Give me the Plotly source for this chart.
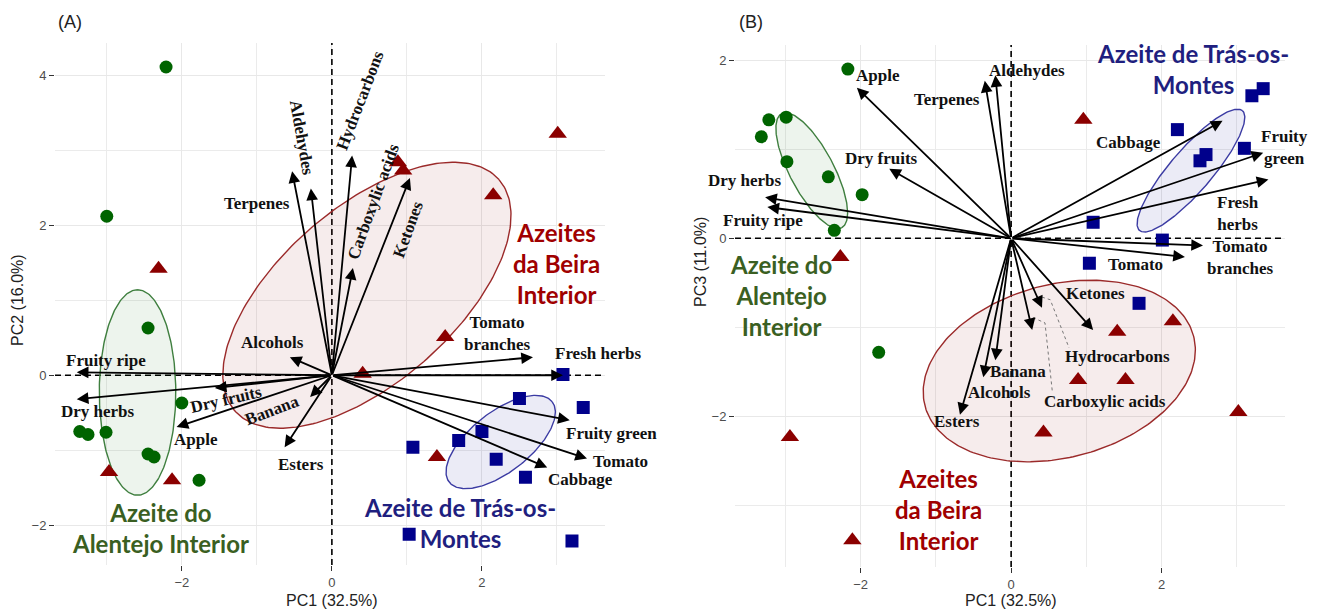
import numpy as np
import plotly.graph_objects as go

# ---------------- Panel A : PC1 x PC2 ----------------
alentejo_a_pc1 = [-2.21, -3.00, -2.45, -2.00, -3.36, -3.25, -3.01, -2.45, -2.37, -1.77]
alentejo_a_pc2 = [4.11, 2.12, 0.63, -0.37, -0.75, -0.79, -0.76, -1.05, -1.09, -1.40]
beira_a_pc1 = [-2.31, -2.97, -2.13, 0.88, 0.95, 2.15, 3.01, 1.51, 0.41, 1.40]
beira_a_pc2 = [1.42, -1.29, -1.40, 2.84, 2.73, 2.40, 3.22, 0.51, 0.02, -1.09]
tras_a_pc1 = [3.08, 2.50, 3.35, 2.00, 1.69, 1.08, 2.19, 2.58, 1.03, 3.20]
tras_a_pc2 = [0.01, -0.31, -0.43, -0.75, -0.87, -0.96, -1.12, -1.36, -2.12, -2.21]

# ---------------- Panel B : PC1 x PC3 ----------------
alentejo_b_pc1 = [-2.17, -3.22, -2.99, -3.32, -2.98, -2.43, -1.98, -2.35, -1.76]
alentejo_b_pc3 = [1.90, 1.33, 1.36, 1.14, 0.86, 0.69, 0.49, 0.09, -1.28]
beira_b_pc1 = [-2.27, 0.96, -2.94, -2.11, 1.41, 2.15, 0.89, 1.52, 0.43, 3.02]
beira_b_pc3 = [-0.21, 1.33, -2.23, -3.39, -1.05, -0.93, -1.59, -1.59, -2.18, -1.95]
tras_b_pc1 = [3.20, 3.35, 2.21, 2.51, 2.59, 3.10, 1.09, 2.01, 1.04, 1.70]
tras_b_pc3 = [1.60, 1.68, 1.22, 0.87, 0.94, 1.01, 0.18, -0.02, -0.28, -0.73]

# ---------------- Sensory / volatile loadings ----------------
attributes = ["Fruity ripe", "Dry herbs", "Dry fruits", "Apple", "Banana", "Esters",
              "Alcohols", "Terpenes", "Aldehydes", "Hydrocarbons", "Carboxylic acids",
              "Ketones", "Tomato branches", "Fresh herbs", "Fruity green", "Tomato", "Cabbage"]
load_a_pc1 = [-3.40, -3.40, -1.56, -2.07, -0.29, -0.63, -0.56, -0.53, -0.28, 0.27, 0.28,
              1.04, 2.68, 3.08, 3.17, 3.40, 2.87]
load_a_pc2 = [0.04, -0.32, -0.17, -0.69, -0.29, -0.96, 0.24, 2.72, 2.49, 2.93, 1.43,
              2.63, 0.24, 0.00, -0.60, -1.11, -1.23]
load_b_pc1 = [-3.24, -3.27, -1.62, -2.05, -0.21, -0.68, -0.37, -0.35, -0.21, 0.41, 0.28,
              1.09, 2.55, 3.42, 3.35, 2.31, 2.81]
load_b_pc3 = [0.35, 0.46, 0.78, 1.69, -1.37, -1.98, -1.56, 1.77, 1.83, -0.78, -1.03,
              -1.03, -0.08, 0.66, 0.96, -0.21, 1.32]

# label placement for each loading: (x, y, text angle)
label_pos_a = {
    "Fruity ripe": (-3.01, 0.20, 0), "Dry herbs": (-3.12, -0.48, 0),
    "Dry fruits": (-1.41, -0.33, -13), "Apple": (-1.81, -0.85, 0),
    "Banana": (-0.80, -0.47, -21), "Esters": (-0.41, -1.19, 0),
    "Alcohols": (-0.79, 0.44, 0), "Terpenes": (-1.00, 2.29, 0),
    "Aldehydes": (-0.40, 3.17, 80), "Hydrocarbons": (0.37, 3.67, -69),
    "Carboxylic acids": (0.55, 2.32, -70), "Ketones": (1.01, 1.95, -70),
    "Tomato branches": (2.21, 0.56, 0), "Fresh herbs": (3.55, 0.29, 0),
    "Fruity green": (3.73, -0.77, 0), "Tomato": (3.84, -1.15, 0),
    "Cabbage": (3.32, -1.39, 0),
}
label_pos_b = {
    "Fruity ripe": (-3.30, 0.20, 0), "Dry herbs": (-3.54, 0.65, 0),
    "Dry fruits": (-1.72, 0.90, 0), "Apple": (-1.77, 1.83, 0),
    "Banana": (0.09, -1.50, 0), "Esters": (-0.72, -2.06, 0),
    "Alcohols": (-0.15, -1.73, 0), "Terpenes": (-0.85, 1.56, 0),
    "Aldehydes": (0.21, 1.88, 0), "Hydrocarbons": (1.41, -1.33, 0),
    "Carboxylic acids": (1.25, -1.83, 0), "Ketones": (1.12, -0.62, 0),
    "Tomato branches": (3.05, -0.21, 0), "Fresh herbs": (3.02, 0.28, 0),
    "Fruity green": (3.63, 1.02, 0), "Tomato": (1.65, -0.29, 0),
    "Cabbage": (1.56, 1.08, 0),
}
two_line_a = {"Tomato branches": "Tomato<br>branches"}
two_line_b = {"Tomato branches": "Tomato<br>branches", "Fresh herbs": "Fresh<br>herbs",
              "Fruity green": "Fruity<br>green"}

# confidence ellipses: centre and two conjugate semi-axis vectors
ellipses_a = {
    "alentejo": ((-2.59, -0.23), (0.0, 1.37), (0.51, 0.0)),
    "beira": ((0.467, 1.067), (1.760, 1.542), (-0.768, 0.876)),
    "tras": ((2.25, -0.89), (0.686, 0.536), (-0.246, 0.315)),
}
ellipses_b = {
    "alentejo": ((-2.65, 0.76), (0.400, -0.640), (0.259, 0.115)),
    "beira": ((0.64, -1.49), (1.785, 0.392), (-0.291, 0.941)),
    "tras": ((2.39, 0.76), (0.684, 0.672), (-0.211, 0.154)),
}

GREEN, RED, BLUE = "#006400", "#8B0000", "#00008B"
ELL_LINE = {"alentejo": "#3f7f3f", "beira": "#9b2a2a", "tras": "#3b3ba3"}
ELL_FILL = {"alentejo": "rgba(0,100,0,0.07)", "beira": "rgba(139,0,0,0.075)",
            "tras": "rgba(0,0,139,0.08)"}
GROUP_TXT = {"alentejo": "#3a5f22", "beira": "#a00000", "tras": "#1f1f7f"}

W, H = 1320, 611
AXES = {
    "x": dict(domain=[55 / W, 605 / W], range=[-3.69, 3.64]),
    "y": dict(domain=[1 - 565 / H, 1 - 43 / H], range=[-2.53, 4.43]),
    "x2": dict(domain=[735 / W, 1285 / W], range=[-3.67, 3.64]),
    "y2": dict(domain=[1 - 567 / H, 1 - 45 / H], range=[-3.69, 2.17]),
}


def to_paper(v, ax):
    """Map a data value on axis `ax` to paper coordinates (labels may sit past the range)."""
    d0, d1 = AXES[ax]["domain"]
    r0, r1 = AXES[ax]["range"]
    return d0 + (v - r0) / (r1 - r0) * (d1 - d0)


fig = go.Figure()
t = np.linspace(0, 2 * np.pi, 240)

# dashed reference lines through the origin, drawn under everything else
for xa, ya in [("x", "y"), ("x2", "y2")]:
    xr, yr = AXES[xa]["range"], AXES[ya]["range"]
    for xs, ys in [([0, 0], yr), (xr, [0, 0])]:
        fig.add_trace(go.Scatter(x=xs, y=ys, mode="lines", xaxis=xa, yaxis=ya,
                                 line=dict(color="black", width=1.6, dash="6px,4px"),
                                 hoverinfo="skip", cliponaxis=False))


def add_ellipses(ells, xa, ya):
    for key, (c, u, v) in ells.items():
        ex = c[0] + np.cos(t) * u[0] + np.sin(t) * v[0]
        ey = c[1] + np.cos(t) * u[1] + np.sin(t) * v[1]
        fig.add_trace(go.Scatter(x=ex, y=ey, mode="lines", fill="toself",
                                 fillcolor=ELL_FILL[key],
                                 line=dict(color=ELL_LINE[key], width=1.4),
                                 xaxis=xa, yaxis=ya, hoverinfo="skip"))


def add_scores(xa, ya, groups):
    for xs, ys, color, symbol, size in groups:
        fig.add_trace(go.Scatter(x=xs, y=ys, mode="markers", xaxis=xa, yaxis=ya,
                                 marker=dict(color=color, symbol=symbol, size=size,
                                             line=dict(width=0))))


add_ellipses(ellipses_a, "x", "y")
add_ellipses(ellipses_b, "x2", "y2")

# dotted leader lines for crowded labels in panel B
fig.add_trace(go.Scatter(x=[0.41, 0.52, 0.77], y=[-0.66, -0.69, -1.23], mode="lines",
                         line=dict(color="#777777", width=1, dash="dot"),
                         xaxis="x2", yaxis="y2", hoverinfo="skip"))
fig.add_trace(go.Scatter(x=[0.29, 0.45, 0.55], y=[-0.89, -0.95, -1.74], mode="lines",
                         line=dict(color="#777777", width=1, dash="dot"),
                         xaxis="x2", yaxis="y2", hoverinfo="skip"))

add_scores("x", "y", [
    (alentejo_a_pc1, alentejo_a_pc2, GREEN, "circle", 13),
    (beira_a_pc1, beira_a_pc2, RED, "triangle-up", 16),
    (tras_a_pc1, tras_a_pc2, BLUE, "square", 13),
])
add_scores("x2", "y2", [
    (alentejo_b_pc1, alentejo_b_pc3, GREEN, "circle", 13),
    (beira_b_pc1, beira_b_pc3, RED, "triangle-up", 16),
    (tras_b_pc1, tras_b_pc3, BLUE, "square", 13),
])

annotations = []
SERIF = dict(family="Liberation Serif", size=17, color="#111111")


def add_loadings(px, py, pos, two_line, xr, yr):
    for name, lx, ly in zip(attributes, px, py):
        annotations.append(dict(x=lx, y=ly, ax=0, ay=0, xref=xr, yref=yr,
                                axref=xr, ayref=yr, text="", showarrow=True,
                                arrowhead=2, arrowsize=1.3, arrowwidth=1.8,
                                arrowcolor="black", standoff=0, startstandoff=0))
        tx, ty, ang = pos[name]
        annotations.append(dict(x=to_paper(tx, xr), y=to_paper(ty, yr),
                                xref="paper", yref="paper", xanchor="center",
                                yanchor="middle", showarrow=False,
                                text="<b>%s</b>" % two_line.get(name, name),
                                textangle=ang, font=SERIF, align="center"))


add_loadings(load_a_pc1, load_a_pc2, label_pos_a, two_line_a, "x", "y")
add_loadings(load_b_pc1, load_b_pc3, label_pos_b, two_line_b, "x2", "y2")

group_labels = [
    ("x", "y", 3.00, 1.49, "Azeites<br>da Beira<br>Interior", "beira"),
    ("x", "y", -2.29, -2.03, "Azeite do<br>Alentejo Interior", "alentejo"),
    ("x", "y", 1.71, -1.97, "Azeite de Trás-os-<br>Montes", "tras"),
    ("x2", "y2", 2.42, 1.90, "Azeite de Trás-os-<br>Montes", "tras"),
    ("x2", "y2", -3.06, -0.64, "Azeite do<br>Alentejo<br>Interior", "alentejo"),
    ("x2", "y2", -0.97, -3.04, "Azeites<br>da Beira<br>Interior", "beira"),
]
for xr, yr, gx, gy, txt, key in group_labels:
    annotations.append(dict(x=to_paper(gx, xr), y=to_paper(gy, yr), xref="paper",
                            yref="paper", xanchor="center", yanchor="middle",
                            showarrow=False, text="<b>%s</b>" % txt, align="center",
                            font=dict(family="Lato", size=24, color=GROUP_TXT[key])))

# panel tags and axis titles
SANS = "Liberation Sans"
for txt, px_, py_, ang in [("(A)", 70, 22, 0), ("(B)", 751, 22, 0),
                          ("PC1 (32.5%)", 332, 600, 0), ("PC1 (32.5%)", 1011, 600, 0),
                          ("PC2 (16.0%)", 17, 300, -90), ("PC3 (11.0%)", 700, 262, -90)]:
    annotations.append(dict(x=px_ / W, y=1 - py_ / H, xref="paper", yref="paper",
                            xanchor="center", yanchor="middle",
                            showarrow=False, text=txt, textangle=ang,
                            font=dict(family=SANS, size=18 if txt.startswith("(") else 16,
                                      color="#222222")))

axis_common = dict(showline=False, zeroline=False, gridcolor="#e8e8e8", gridwidth=1.2,
                   ticks="outside", ticklen=5, tickwidth=1.3, tickcolor="#333333",
                   tickfont=dict(family=SANS, size=13, color="#4d4d4d"))
minor_style = dict(showgrid=True, gridcolor="#ebebeb", ticks="")

fig.update_layout(
    width=W, height=H, margin=dict(l=0, r=0, t=0, b=0),
    plot_bgcolor="white", paper_bgcolor="white", showlegend=False,
    xaxis=dict(AXES["x"], tickvals=[-2, 0, 2],
               minor=dict(tickvals=[-3, -1, 1, 3], **minor_style), anchor="y", **axis_common),
    yaxis=dict(AXES["y"], tickvals=[-2, 0, 2, 4],
               minor=dict(tickvals=[-1, 1, 3], **minor_style), anchor="x", **axis_common),
    xaxis2=dict(AXES["x2"], tickvals=[-2, 0, 2],
                minor=dict(tickvals=[-3, -1, 1, 3], **minor_style), anchor="y2", **axis_common),
    yaxis2=dict(AXES["y2"], tickvals=[-2, 0, 2],
                minor=dict(tickvals=[-3, -1, 1], **minor_style), anchor="x2", **axis_common),
    annotations=annotations,
)

fig.write_html("out.html")
